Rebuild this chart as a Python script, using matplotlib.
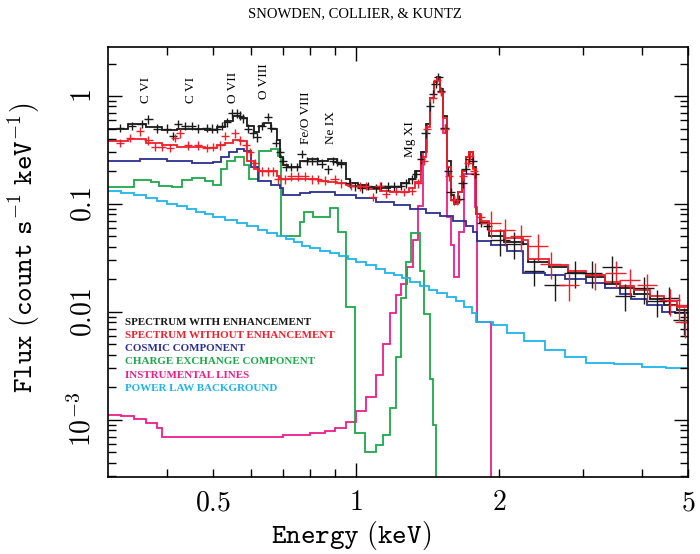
import matplotlib
matplotlib.use("Agg")
import matplotlib.pyplot as plt
import numpy as np
from matplotlib.ticker import FixedLocator, FixedFormatter, NullFormatter, LogLocator

plt.rcParams['mathtext.fontset'] = 'cm'

# colours of the components
c_with = '#1a1a1a'
c_without = '#f0202a'
c_cosmic = '#2b3090'
c_cx = '#1fa84a'
c_instr = '#ec1e8c'
c_pl = '#1eb4ec'

# data: spectrum with enhancement (black crosses)
with_E = [0.318, 0.337, 0.353, 0.365, 0.380, 0.399, 0.412, 0.422, 0.436, 0.450,
          0.465, 0.484, 0.496, 0.508, 0.521, 0.534, 0.547, 0.560, 0.569, 0.578,
          0.592, 0.607, 0.617, 0.632, 0.652, 0.663, 0.679, 0.690, 0.701, 0.713,
          0.730, 0.749, 0.767, 0.786, 0.806, 0.825, 0.845, 0.872, 0.894, 0.909,
          0.930, 0.968, 0.992, 1.026, 1.058, 1.103, 1.130, 1.166, 1.204, 1.24,
          1.27, 1.31, 1.335, 1.37, 1.40, 1.43, 1.45, 1.47, 1.49, 1.51,
          1.535, 1.56, 1.58, 1.61, 1.65, 1.675, 1.70, 1.73, 1.76, 1.78,
          1.83, 1.89, 2.01, 2.15, 2.37, 2.62, 2.89, 3.14, 3.46, 3.69,
          4.04, 4.30, 4.56, 4.90]
with_F = [0.51, 0.53, 0.55, 0.61, 0.50, 0.50, 0.43, 0.55, 0.53, 0.53,
          0.50, 0.51, 0.50, 0.50, 0.53, 0.57, 0.69, 0.69, 0.66, 0.62,
          0.50, 0.45, 0.415, 0.53, 0.64, 0.51, 0.37, 0.30, 0.25, 0.22,
          0.22, 0.22, 0.29, 0.25, 0.25, 0.25, 0.237, 0.21, 0.25, 0.245,
          0.237, 0.155, 0.146, 0.14, 0.148, 0.14, 0.148, 0.146, 0.146, 0.148,
          0.155, 0.17, 0.19, 0.26, 0.45, 0.80, 1.05, 1.30, 1.50, 1.12,
          0.51, 0.20, 0.13, 0.108, 0.112, 0.155, 0.21, 0.26, 0.25, 0.19,
          0.067, 0.063, 0.046, 0.043, 0.024, 0.0176, 0.023, 0.023, 0.026, 0.0142,
          0.0165, 0.0125, 0.0134, 0.0085]

# data: spectrum without enhancement (red crosses)
without_E = [0.318, 0.334, 0.350, 0.365, 0.377, 0.390, 0.406, 0.416, 0.426, 0.443,
             0.465, 0.484, 0.500, 0.516, 0.529, 0.555, 0.569, 0.587, 0.597, 0.612,
             0.632, 0.652, 0.668, 0.685, 0.707, 0.730, 0.754, 0.780, 0.806, 0.831,
             0.858, 0.900, 0.930, 0.976, 1.017, 1.050, 1.084, 1.12, 1.157, 1.21,
             1.26, 1.31, 1.35, 1.39, 1.41, 1.45, 1.48, 1.51, 1.535, 1.57,
             1.61, 1.63, 1.68, 1.72, 1.74, 1.77, 1.83, 1.92, 2.06, 2.22,
             2.41, 2.57, 2.81, 3.19, 3.52, 3.77, 4.10, 4.58, 4.78, 4.93]
without_F = [0.37, 0.41, 0.47, 0.39, 0.34, 0.34, 0.33, 0.41, 0.45, 0.35,
             0.35, 0.33, 0.34, 0.35, 0.43, 0.45, 0.39, 0.35, 0.30, 0.24,
             0.20, 0.20, 0.20, 0.17, 0.17, 0.18, 0.18, 0.18, 0.17, 0.17,
             0.165, 0.17, 0.155, 0.148, 0.146, 0.148, 0.117, 0.146, 0.125, 0.133,
             0.13, 0.133, 0.155, 0.25, 0.50, 0.95, 1.40, 1.10, 0.50, 0.18,
             0.11, 0.108, 0.18, 0.24, 0.28, 0.20, 0.075, 0.067, 0.057, 0.05,
             0.041, 0.028, 0.0176, 0.022, 0.023, 0.0196, 0.0176, 0.0128, 0.0115, 0.008]

# folded models (step functions)
model_edges = [0.30, 0.33, 0.36, 0.39, 0.42, 0.45, 0.48, 0.51, 0.53, 0.55,
               0.57, 0.59, 0.61, 0.625, 0.64, 0.66, 0.68, 0.69, 0.70, 0.72,
               0.76, 0.79, 0.83, 0.87, 0.91, 0.95, 0.97, 1.01, 1.06, 1.12,
               1.18, 1.24, 1.29, 1.33, 1.37, 1.40, 1.43, 1.46, 1.48, 1.50,
               1.52, 1.55, 1.58, 1.61, 1.64, 1.67, 1.70, 1.73, 1.76, 1.79,
               1.82, 1.90, 2.05, 2.25, 2.30, 2.55, 2.80, 3.05, 3.35, 3.60,
               3.85, 4.15, 4.45, 4.75, 5.0]
model_with = [0.50, 0.55, 0.52, 0.48, 0.50, 0.49, 0.48, 0.52, 0.59, 0.66,
              0.62, 0.53, 0.46, 0.53, 0.56, 0.50, 0.39, 0.27, 0.23, 0.22,
              0.25, 0.26, 0.25, 0.26, 0.24, 0.17, 0.155, 0.15, 0.145, 0.14,
              0.145, 0.155, 0.17, 0.20, 0.30, 0.55, 0.95, 1.35, 1.50, 1.15,
              0.65, 0.25, 0.12, 0.105, 0.13, 0.20, 0.27, 0.30, 0.22, 0.08,
              0.066, 0.050, 0.044, 0.043, 0.029, 0.026, 0.023, 0.021, 0.018, 0.0165,
              0.0148, 0.0132, 0.0115, 0.0105]
model_without = [0.38, 0.40, 0.37, 0.35, 0.34, 0.34, 0.33, 0.35, 0.37, 0.39,
                 0.38, 0.25, 0.21, 0.20, 0.20, 0.20, 0.18, 0.17, 0.17, 0.17,
                 0.17, 0.17, 0.165, 0.16, 0.155, 0.15, 0.148, 0.143, 0.138, 0.133,
                 0.13, 0.13, 0.14, 0.16, 0.27, 0.52, 0.95, 1.35, 1.48, 1.12,
                 0.62, 0.22, 0.11, 0.10, 0.13, 0.20, 0.27, 0.30, 0.21, 0.08,
                 0.070, 0.056, 0.048, 0.046, 0.031, 0.027, 0.024, 0.022, 0.019, 0.0175,
                 0.016, 0.014, 0.0125, 0.011]

cosmic_edges = [0.30, 0.35, 0.40, 0.45, 0.50, 0.52, 0.54, 0.56, 0.58, 0.60,
                0.62, 0.66, 0.69, 0.70, 0.73, 0.76, 0.80, 0.85, 0.90, 1.0,
                1.1, 1.2, 1.3, 1.4, 1.5, 1.6, 1.7, 1.76, 1.80, 1.92,
                2.08, 2.25, 2.5, 2.75, 3.05, 3.35, 3.6, 3.8, 4.1, 4.4,
                4.7, 5.0]
cosmic = [0.25, 0.26, 0.25, 0.24, 0.245, 0.27, 0.30, 0.32, 0.31, 0.22,
          0.165, 0.15, 0.14, 0.12, 0.12, 0.127, 0.13, 0.128, 0.122, 0.113,
          0.104, 0.097, 0.090, 0.083, 0.077, 0.070, 0.062, 0.055, 0.045, 0.042,
          0.037, 0.023, 0.022, 0.020, 0.0186, 0.0167, 0.0146, 0.0131, 0.0117, 0.0099,
          0.0097]

cx_edges = [0.30, 0.34, 0.37, 0.385, 0.41, 0.43, 0.45, 0.48, 0.50, 0.52,
            0.535, 0.555, 0.58, 0.595, 0.625, 0.66, 0.685, 0.695, 0.76, 0.775,
            0.81, 0.88, 0.915, 0.95, 0.996, 1.045, 1.10, 1.14, 1.18, 1.21,
            1.245, 1.275, 1.305, 1.36, 1.39, 1.43, 1.45, 1.47, 1.50]
cx = [0.145, 0.167, 0.16, 0.148, 0.143, 0.167, 0.174, 0.165, 0.15, 0.21,
      0.25, 0.27, 0.23, 0.17, 0.31, 0.32, 0.28, 0.050, 0.068, 0.084,
      0.076, 0.092, 0.055, 0.011, 0.00075, 0.00050, 0.00058, 0.00072, 0.0013, 0.0038,
      0.0135, 0.029, 0.054, 0.024, 0.0095, 0.0024, 0.0009, 1e-7]

instr_edges = [0.30, 0.32, 0.34, 0.36, 0.38, 0.39, 0.55, 0.70, 0.80, 0.86,
               0.90, 0.95, 1.0, 1.05, 1.10, 1.14, 1.18, 1.21, 1.245, 1.28,
               1.32, 1.35, 1.38, 1.41, 1.43, 1.46, 1.48, 1.50, 1.52, 1.55,
               1.58, 1.61, 1.65, 1.69, 1.78, 1.80, 1.92, 1.95]
instr = [0.00112, 0.00108, 0.00103, 0.00093, 0.00085, 0.00069, 0.00070, 0.00072, 0.00075, 0.00079,
         0.00085, 0.00095, 0.0012, 0.00163, 0.0026, 0.0050, 0.0097, 0.0145, 0.018, 0.026,
         0.046, 0.095, 0.30, 0.55, 0.95, 1.35, 1.48, 1.10, 0.45, 0.075,
         0.042, 0.021, 0.055, 0.19, 0.093, 0.0081, 1e-7]

pl_edges = [0.30, 0.32, 0.34, 0.36, 0.38, 0.40, 0.42, 0.44, 0.46, 0.48,
            0.50, 0.53, 0.56, 0.59, 0.62, 0.65, 0.68, 0.71, 0.74, 0.77,
            0.80, 0.84, 0.88, 0.92, 0.96, 1.0, 1.05, 1.10, 1.15, 1.20,
            1.25, 1.30, 1.36, 1.42, 1.48, 1.55, 1.62, 1.69, 1.75, 1.79,
            1.94, 2.08, 2.26, 2.50, 2.75, 3.05, 3.5, 4.0, 4.5, 5.0]
pl = [0.132, 0.126, 0.120, 0.113, 0.106, 0.100, 0.095, 0.090, 0.085, 0.080,
      0.075, 0.071, 0.066, 0.062, 0.058, 0.054, 0.050, 0.047, 0.044, 0.041,
      0.039, 0.037, 0.035, 0.033, 0.031, 0.029, 0.027, 0.025, 0.023, 0.022,
      0.0205, 0.019, 0.0175, 0.016, 0.015, 0.0138, 0.0125, 0.0112, 0.0098, 0.0080,
      0.0075, 0.0064, 0.0054, 0.0044, 0.0038, 0.0034, 0.0033, 0.0031, 0.0030]

# line identifications: label, energy, flux at the bottom of the text
line_names = ['C VI', 'C VI', 'O VII', 'O VIII', 'Fe/O VIII', 'Ne IX', 'Mg XI']
line_E = [0.361, 0.449, 0.551, 0.640, 0.784, 0.885, 1.30]
line_F = [0.87, 0.87, 0.87, 0.93, 0.363, 0.363, 0.27]

legend_names = ['SPECTRUM WITH ENHANCEMENT', 'SPECTRUM WITHOUT ENHANCEMENT',
                'COSMIC COMPONENT', 'CHARGE EXCHANGE COMPONENT',
                'INSTRUMENTAL LINES', 'POWER LAW BACKGROUND']
legend_colors = [c_with, c_without, c_cosmic, c_cx, c_instr, c_pl]

fig = plt.figure(figsize=(7.0, 5.54), dpi=100)
ax = fig.add_axes([0.1543, 0.139, 0.8286, 0.776])
ax.set_xscale('log')
ax.set_yscale('log')

lw = 1.3
ax.stairs(instr, instr_edges, baseline=None, color=c_instr, lw=lw)
ax.stairs(cx, cx_edges, baseline=None, color=c_cx, lw=lw)
ax.stairs(pl, pl_edges, baseline=None, color=c_pl, lw=lw)
ax.stairs(cosmic, cosmic_edges, baseline=None, color=c_cosmic, lw=lw)

for E, F, mod, col in [(with_E, with_F, model_with, c_with),
                       (without_E, without_F, model_without, c_without)]:
    E = np.array(E)
    F = np.array(F)
    hi = E > 1.9
    xerr = E * np.where(hi, 0.05, 0.02)
    yerr = F * np.where(hi, 0.28, 0.09)
    ax.errorbar(E, F, xerr=xerr, yerr=yerr, fmt='none', ecolor=col,
                elinewidth=1.0, capsize=0)
    ax.stairs(mod, model_edges, baseline=None, color=col, lw=lw)

for name, e, f in zip(line_names, line_E, line_F):
    ax.text(e, f, name, rotation=90, ha='center', va='bottom',
            family='Liberation Serif', fontsize=9.5)

for i, (name, col) in enumerate(zip(legend_names, legend_colors)):
    ax.text(0.029, 0.360 - i * 0.0308, name, transform=ax.transAxes,
            color=col, family='Liberation Serif', fontweight='bold',
            fontsize=7.9, va='center', ha='left')

ax.set_xlim(0.3, 5)
ax.set_ylim(2.96e-4, 2.84)

ax.xaxis.set_major_locator(FixedLocator([0.5, 1, 2, 5]))
ax.xaxis.set_major_formatter(FixedFormatter(['$0.5$', '$1$', '$2$', '$5$']))
ax.xaxis.set_minor_locator(FixedLocator([0.4, 0.6, 0.7, 0.8, 0.9, 3, 4]))
ax.xaxis.set_minor_formatter(NullFormatter())
ax.yaxis.set_major_locator(FixedLocator([1e-3, 1e-2, 0.1, 1]))
ax.yaxis.set_major_formatter(FixedFormatter([r'$10^{-3}$', '$0.01$', '$0.1$', '$1$']))
ax.yaxis.set_minor_locator(LogLocator(subs=np.arange(2, 10)))
ax.yaxis.set_minor_formatter(NullFormatter())

ax.tick_params(which='both', direction='in', top=True, right=True, width=1.0)
ax.tick_params(which='major', length=10, labelsize=20, pad=8)
ax.tick_params(which='minor', length=6)
ax.tick_params(axis='y', labelrotation=90)
for lab in ax.get_yticklabels():
    lab.set_va('center')
for t, v in zip(ax.xaxis.get_major_ticks(), [0.5, 1, 2, 5]):
    if v != 1:
        t.tick1line.set_markersize(6)
        t.tick2line.set_markersize(6)
for s in ax.spines.values():
    s.set_linewidth(1.2)

ax.set_xlabel(r'$\mathtt{Energy\ (keV)}$', fontsize=20)
ax.set_ylabel(r'$\mathtt{Flux\ (count\ s^{-1}\ keV^{-1})}$', fontsize=20)
ax.xaxis.set_label_coords(0.42, -0.097)
ax.yaxis.set_label_coords(-0.114, 0.533)

fig.text(0.507, 0.975, 'SNOWDEN, COLLIER, & KUNTZ', ha='center', va='center',
         family='Liberation Serif', fontsize=10.5)

fig.savefig('out.png', dpi=100)
